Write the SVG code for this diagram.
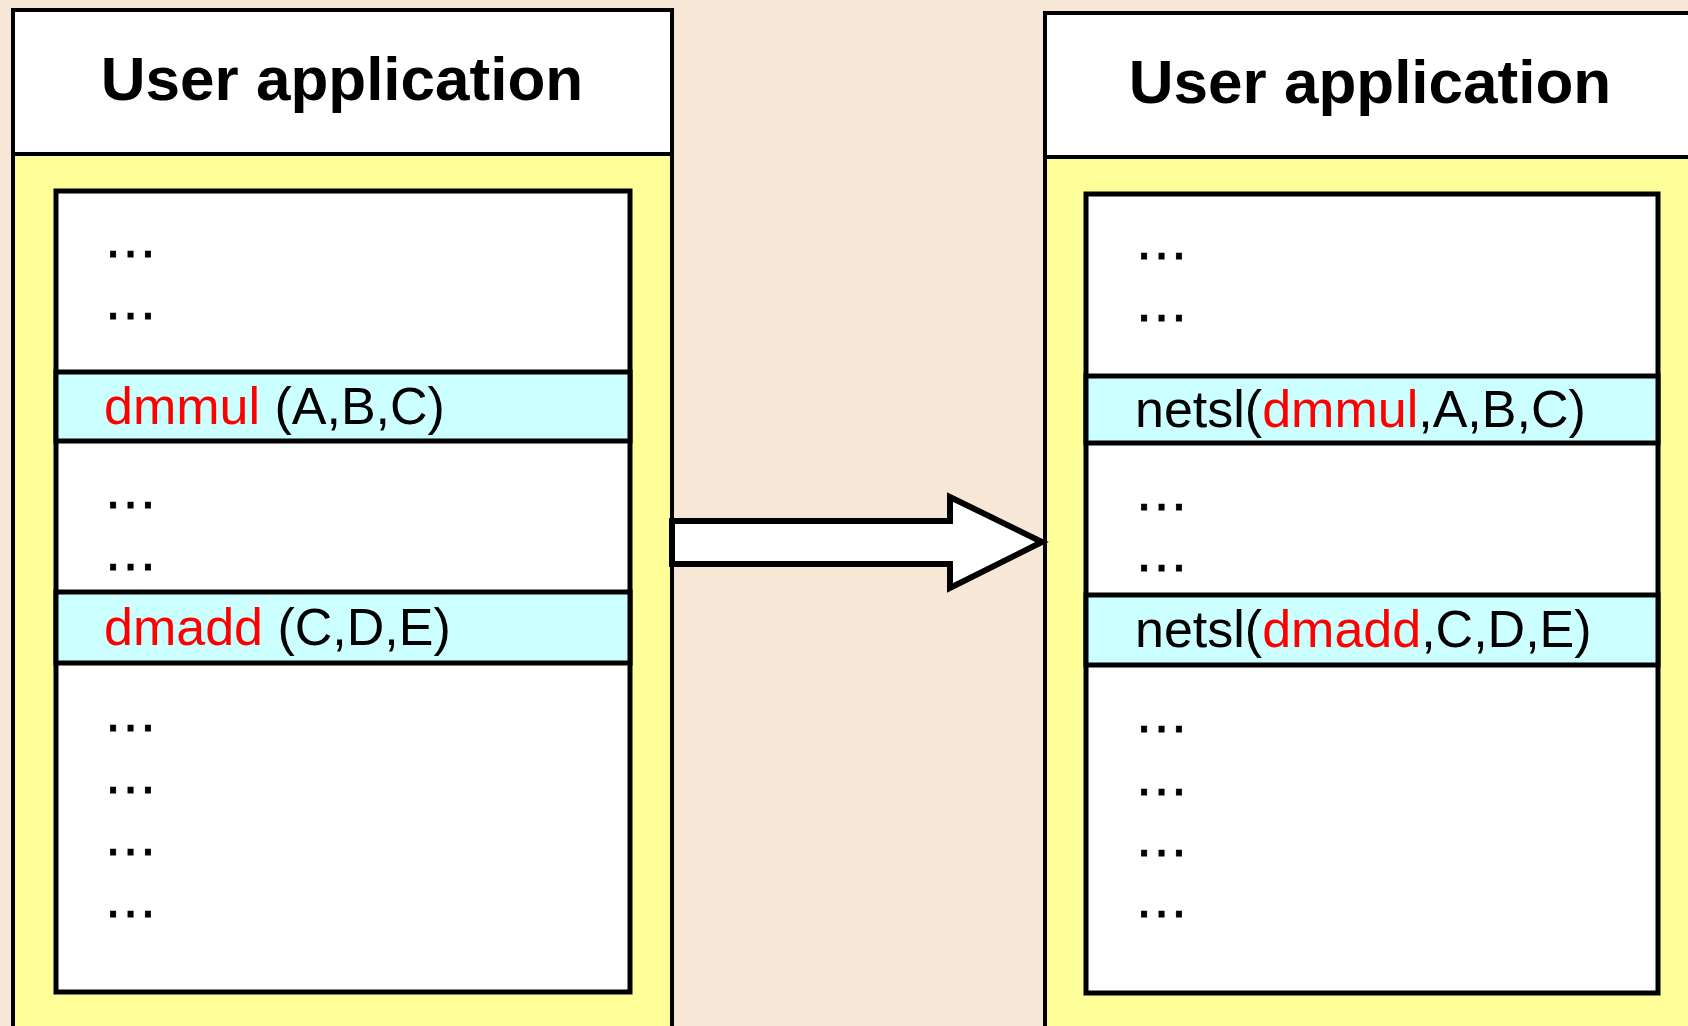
<svg xmlns="http://www.w3.org/2000/svg" width="1688" height="1026" viewBox="0 0 1688 1026">
  <defs>
    <style>
      .panel { fill: #ffff99; stroke: #000; stroke-width: 4; }
      .header { fill: #fff; stroke: #000; stroke-width: 4; }
      .body { fill: #fff; stroke: #000; stroke-width: 5; }
      .call { fill: #ccffff; stroke: #000; stroke-width: 5; }
      .title { font-family: "Liberation Sans", Arial, sans-serif; font-weight: bold; font-size: 62px; fill: #000; text-anchor: middle; }
      .code { font-family: "Liberation Sans", Arial, sans-serif; font-size: 52px; fill: #000; }
      .dots { font-family: "Liberation Sans", Arial, sans-serif; font-size: 55px; fill: #000; stroke: #000; stroke-width: 0.8; }
      .fn { fill: #ff0000; }
      .arrow { fill: #fff; stroke: #000; stroke-width: 6; stroke-linejoin: miter; }
    </style>
  </defs>

  <!-- paper background -->
  <rect x="0" y="0" width="1688" height="1026" fill="#f7e7d6"/>

  <!-- original program -->
  <g id="left-app">
    <rect class="panel" x="13" y="10" width="659" height="1030"/>
    <rect class="header" x="13" y="10" width="659" height="144"/>
    <text class="title" x="342" y="100">User application</text>
    <g id="left-code">
      <rect class="body" x="56" y="191" width="574" height="801"/>
      <text class="dots" x="103" y="257">…</text>
      <text class="dots" x="103" y="319">…</text>
      <g id="left-dmmul">
        <rect class="call" x="56" y="372" width="574" height="69"/>
        <text class="code" x="104" y="424"><tspan class="fn">dmmul</tspan> (A,B,C)</text>
      </g>
      <text class="dots" x="103" y="508">…</text>
      <text class="dots" x="103" y="570">…</text>
      <g id="left-dmadd">
        <rect class="call" x="56" y="592" width="574" height="71"/>
        <text class="code" x="104" y="645"><tspan class="fn">dmadd</tspan> (C,D,E)</text>
      </g>
      <text class="dots" x="103" y="731">…</text>
      <text class="dots" x="103" y="793">…</text>
      <text class="dots" x="103" y="855">…</text>
      <text class="dots" x="103" y="917">…</text>
    </g>
  </g>

  <!-- program rewritten with netsl calls -->
  <g id="right-app">
    <rect class="panel" x="1045" y="13" width="659" height="1030"/>
    <rect class="header" x="1045" y="13" width="659" height="144"/>
    <text class="title" x="1370" y="103">User application</text>
    <g id="right-code">
      <rect class="body" x="1086" y="194" width="572" height="799"/>
      <text class="dots" x="1134" y="259">…</text>
      <text class="dots" x="1134" y="321">…</text>
      <g id="right-dmmul">
        <rect class="call" x="1086" y="376" width="572" height="67"/>
        <text class="code" x="1135" y="427">netsl(<tspan class="fn">dmmul</tspan>,A,B,C)</text>
      </g>
      <text class="dots" x="1134" y="510">…</text>
      <text class="dots" x="1134" y="571">…</text>
      <g id="right-dmadd">
        <rect class="call" x="1086" y="595" width="572" height="70"/>
        <text class="code" x="1135" y="647">netsl(<tspan class="fn">dmadd</tspan>,C,D,E)</text>
      </g>
      <text class="dots" x="1134" y="732">…</text>
      <text class="dots" x="1134" y="795">…</text>
      <text class="dots" x="1134" y="856">…</text>
      <text class="dots" x="1134" y="917">…</text>
    </g>
  </g>

  <!-- transformation arrow -->
  <g id="connectors">
    <polygon class="arrow" points="672,521 950,521 950,497 1042,542 950,588 950,564 672,564"/>
  </g>
</svg>
